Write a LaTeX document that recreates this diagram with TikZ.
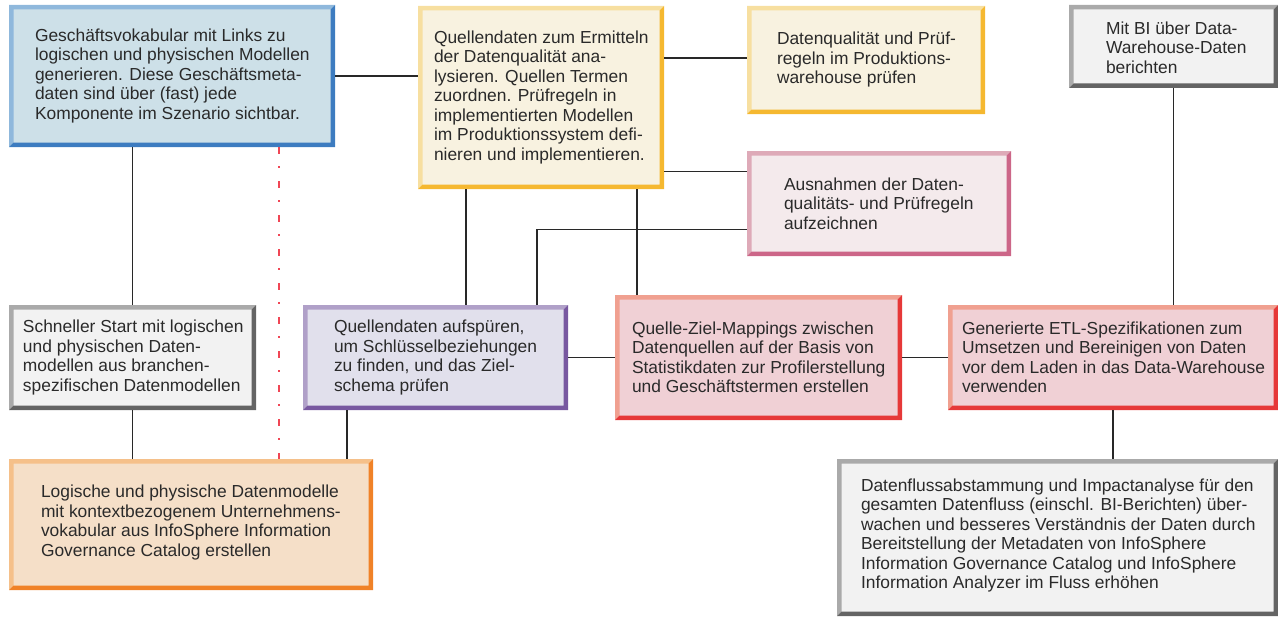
\documentclass[tikz,border=0pt]{standalone}
\usepackage{fontspec}
\setmainfont{Liberation Sans}
\usetikzlibrary{calc}

\definecolor{txtgray}{RGB}{42,42,42}
\definecolor{linegray}{RGB}{40,40,40}
\definecolor{dashred}{RGB}{240,70,85}
% fill / light edge / dark edge for each panel family
\definecolor{blueF}{RGB}{205,224,232}\definecolor{blueL}{RGB}{143,184,220}\definecolor{blueD}{RGB}{61,124,192}
\definecolor{yelF}{RGB}{248,242,224}\definecolor{yelL}{RGB}{247,223,160}\definecolor{yelD}{RGB}{245,184,48}
\definecolor{grayF}{RGB}{242,242,242}\definecolor{grayL}{RGB}{170,170,170}\definecolor{grayD}{RGB}{100,100,100}
\definecolor{pinkF}{RGB}{244,234,236}\definecolor{pinkL}{RGB}{222,170,184}\definecolor{pinkD}{RGB}{204,102,136}
\definecolor{purF}{RGB}{225,224,236}\definecolor{purL}{RGB}{176,160,200}\definecolor{purD}{RGB}{120,88,160}
\definecolor{redF}{RGB}{240,208,213}\definecolor{redL}{RGB}{240,160,144}\definecolor{redD}{RGB}{230,56,56}
\definecolor{oraF}{RGB}{245,223,200}\definecolor{oraL}{RGB}{245,192,138}\definecolor{oraD}{RGB}{240,130,40}

\newlength\bevw
\setlength\bevw{4.5pt}

\tikzset{
  panel/.style n args={3}{rectangle, draw=none, inner sep=0pt, fill=#1,
    path picture={
      \fill[#2] (path picture bounding box.south west) -- (path picture bounding box.north west)
        -- (path picture bounding box.north east)
        -- ([xshift=-\bevw,yshift=-\bevw]path picture bounding box.north east)
        -- ([xshift=\bevw,yshift=-\bevw]path picture bounding box.north west)
        -- ([xshift=\bevw,yshift=\bevw]path picture bounding box.south west) -- cycle;
      \fill[#3] (path picture bounding box.south west) -- (path picture bounding box.south east)
        -- (path picture bounding box.north east)
        -- ([xshift=-\bevw,yshift=-\bevw]path picture bounding box.north east)
        -- ([xshift=-\bevw,yshift=\bevw]path picture bounding box.south east)
        -- ([xshift=\bevw,yshift=\bevw]path picture bounding box.south west) -- cycle;
    }},
  bluebox/.style={panel={blueF}{blueL}{blueD}},
  yelbox/.style={panel={yelF}{yelL}{yelD}},
  graybox/.style={panel={grayF}{grayL}{grayD}},
  pinkbox/.style={panel={pinkF}{pinkL}{pinkD}},
  purbox/.style={panel={purF}{purL}{purD}},
  redbox/.style={panel={redF}{redL}{redD}},
  orabox/.style={panel={oraF}{oraL}{oraD}},
  txt/.style={anchor=west, align=left, inner sep=0pt, text=txtgray,
    font=\fontsize{17.4}{19.5}\selectfont},
  conn/.style={draw=linegray, line width=1.2pt},
  dashdot red/.style={draw=dashred, line width=1.3pt,
    dash pattern=on 7pt off 12pt on 1.5pt off 13.5pt},
}

\begin{document}
\begin{tikzpicture}[x=1pt, y=-1pt]
\useasboundingbox (0,0) rectangle (1278,618);

% ---- panels ----
\node[bluebox, minimum width=326pt, minimum height=142pt] (voc) at (172,76) {};
\node[yelbox,  minimum width=246pt, minimum height=183pt] (ana) at (541,97.5) {};
\node[yelbox,  minimum width=238pt, minimum height=108pt] (chk) at (866,60) {};
\node[graybox, minimum width=209pt, minimum height=83pt]  (bi)  at (1173.5,46.5) {};
\node[pinkbox, minimum width=264pt, minimum height=105pt] (exc) at (879,203.5) {};
\node[graybox, minimum width=247pt, minimum height=105pt] (qs)  at (132.5,357.5) {};
\node[purbox,  minimum width=265pt, minimum height=105pt] (disc) at (435.5,357.5) {};
\node[redbox,  minimum width=287pt, minimum height=125pt] (map) at (758.5,357.5) {};
\node[redbox,  minimum width=330pt, minimum height=105pt] (etl) at (1113,357.5) {};
\node[orabox,  minimum width=364pt, minimum height=131pt] (mod) at (191,524.5) {};
\node[graybox, minimum width=441pt, minimum height=157pt] (lin) at (1057.5,537.5) {};

% ---- texts ----
\node[txt] (tvoc) at ([xshift=26pt]voc.west) {Geschäftsvokabular mit Links zu\\logischen und physischen Modellen\\generieren. Diese Geschäftsmeta-\\daten sind über (fast) jede\\Komponente im Szenario sichtbar.};
\node[txt] (tana) at ([xshift=16pt]ana.west) {Quellendaten zum Ermitteln\\der Datenqualität ana-\\lysieren. Quellen Termen\\zuordnen. Prüfregeln in\\implementierten Modellen\\im Produktionssystem defi-\\nieren und implementieren.};
\node[txt] (tchk) at ([xshift=30pt]chk.west) {Datenqualität und Prüf-\\regeln im Produktions-\\warehouse prüfen};
\node[txt] (tbi) at ([xshift=37pt,yshift=-1pt]bi.west) {Mit BI über Data-\\Warehouse-Daten\\berichten};
\node[txt] (texc) at ([xshift=37pt]exc.west) {Ausnahmen der Daten-\\qualitäts- und Prüfregeln\\aufzeichnen};
\node[txt] (tqs) at ([xshift=14pt]qs.west) {Schneller Start mit logischen\\und physischen Daten-\\modellen aus branchen-\\spezifischen Datenmodellen};
\node[txt] (tdisc) at ([xshift=31pt]disc.west) {Quellendaten aufspüren,\\um Schlüsselbeziehungen\\zu finden, und das Ziel-\\schema prüfen};
\node[txt] (tmap) at ([xshift=17pt]map.west) {Quelle-Ziel-Mappings zwischen\\Datenquellen auf der Basis von\\Statistikdaten zur Profilerstellung\\und Geschäftstermen erstellen};
\node[txt] (tetl) at ([xshift=14pt]etl.west) {Generierte ETL-Spezifikationen zum\\Umsetzen und Bereinigen von Daten\\vor dem Laden in das Data-Warehouse\\verwenden};
\node[txt] (tmod) at ([xshift=32pt,yshift=2pt]mod.west) {Logische und physische Datenmodelle\\mit kontextbezogenem Unternehmens-\\vokabular aus InfoSphere Information\\Governance Catalog erstellen};
\node[txt] (tlin) at ([xshift=24pt,yshift=2pt]lin.west) {Datenflussabstammung und Impactanalyse für den\\gesamten Datenfluss (einschl. BI-Berichten) über-\\wachen und besseres Verständnis der Daten durch\\Bereitstellung der Metadaten von InfoSphere\\Information Governance Catalog und InfoSphere\\Information Analyzer im Fluss erhöhen};

% ---- connectors ----
\draw[conn] (voc.east) -- (voc.east -| ana.west);
\draw[conn] ([yshift=2pt]chk.west -| ana.east) -- ([yshift=2pt]chk.west);
\draw[conn] ([yshift=-21pt]exc.north west -| ana.east) -- ([yshift=-21pt]exc.north west);
\draw[conn] ([yshift=27pt]exc.south west) -| ([xshift=101.5pt]disc.north);
\draw[conn] ([xshift=-75pt]ana.south) -- ([xshift=-75pt]ana.south |- disc.north);
\draw[conn] ([xshift=96pt]ana.south) -- ([xshift=96pt]ana.south |- map.north);
\draw[conn] (qs.north) -- (qs.north |- voc.south);
\draw[conn] (qs.south) -- (qs.south |- mod.north);
\draw[conn] ([xshift=-88.5pt]disc.south) -- ([xshift=-88.5pt]disc.south |- mod.north);
\draw[conn] (disc.east) -- (disc.east -| map.west);
\draw[conn] (map.east) -- (map.east -| etl.west);
\draw[conn] (bi.south) -- (bi.south |- etl.north);
\draw[conn] (etl.south) -- (etl.south |- lin.north);
\draw[dashdot red] ([xshift=107pt]voc.south) -- ([xshift=107pt]voc.south |- mod.north);
\end{tikzpicture}
\end{document}
